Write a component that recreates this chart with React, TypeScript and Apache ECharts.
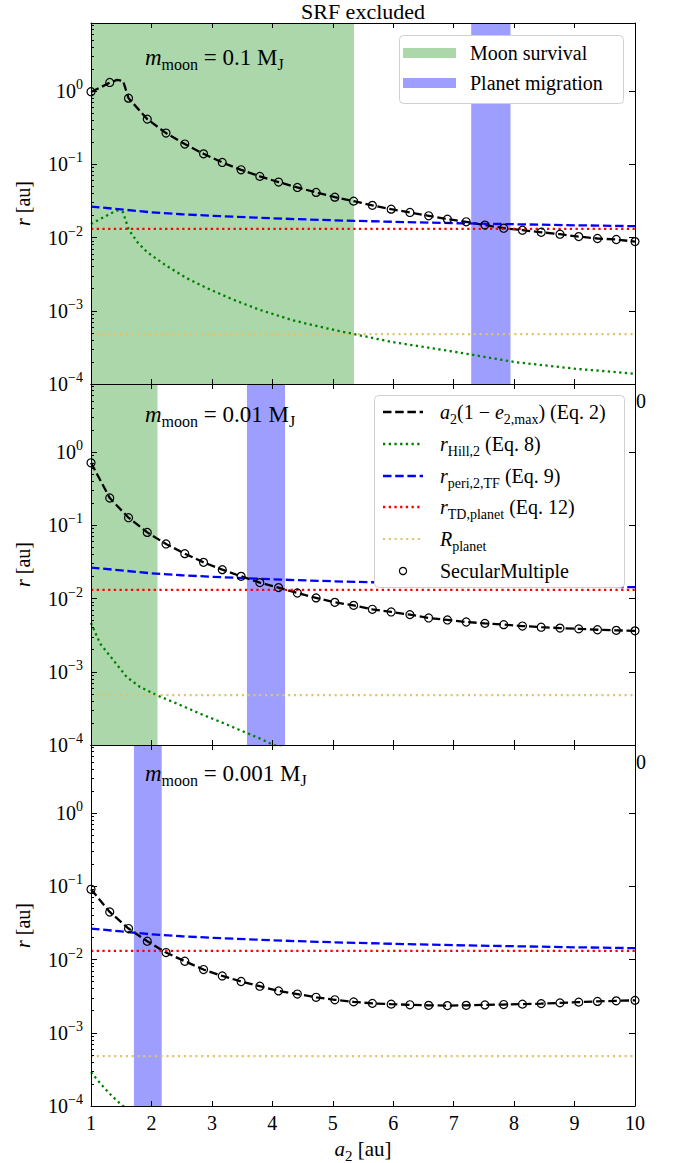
import React, { useEffect, useRef } from "react";
import * as echarts from "echarts";

const FONT = "'Liberation Serif', 'DejaVu Serif', serif";

// ---------------- data ----------------
const X_MIN = 1;
const X_MAX = 10;
const Y_MIN = 1e-4;
const Y_MAX = 8.5;
const xTickValues = [1, 2, 3, 4, 5, 6, 7, 8, 9, 10];
const yMajorTicks = [1e-4, 1e-3, 1e-2, 1e-1, 1];
const yMinorTicks: number[] = [];
for (const d of [1e-4, 1e-3, 1e-2, 1e-1, 1]) {
  for (const k of [2, 3, 4, 5, 6, 7, 8, 9]) {
    const v = k * d;
    if (v <= Y_MAX) yMinorTicks.push(v);
  }
}

const moonMasses = ["0.1", "0.01", "0.001"];

// SecularMultiple sample positions (a2, au)
const aSM = [
  1, 1.31, 1.621, 1.931, 2.241, 2.552, 2.862, 3.172, 3.483, 3.793, 4.103, 4.414,
  4.724, 5.034, 5.345, 5.655, 5.966, 6.276, 6.586, 6.897, 7.207, 7.517, 7.828,
  8.138, 8.448, 8.759, 9.069, 9.379, 9.69, 10,
];
// a2(1-e2,max) per panel (au)
const smR1 = [
  0.98, 1.31, 0.8, 0.414, 0.267, 0.189, 0.139, 0.106, 0.0841, 0.0684, 0.0572, 0.0483,
  0.0413, 0.0356, 0.0314, 0.0275, 0.0244, 0.022, 0.0198, 0.0178, 0.0164, 0.0148, 0.0134,
  0.0126, 0.0118, 0.0111, 0.0103, 0.0097, 0.0094, 0.0088,
];
const smR2 = [
  0.714, 0.236, 0.127, 0.08, 0.0556, 0.041, 0.0312, 0.0248, 0.0201, 0.0165, 0.0141, 0.0119,
  0.0102, 0.00887, 0.00807, 0.00713, 0.00656, 0.00603, 0.00543, 0.0051, 0.00478, 0.00458,
  0.0044, 0.00421, 0.00406, 0.00395, 0.00385, 0.00375, 0.00368, 0.00362,
];
const smR3 = [
  0.091, 0.0446, 0.0265, 0.0178, 0.01245, 0.00948, 0.0073, 0.00597, 0.00501, 0.00432,
  0.00373, 0.00338, 0.00305, 0.00282, 0.00264, 0.00252, 0.00246, 0.00241, 0.00237,
  0.00235, 0.00237, 0.0024, 0.00243, 0.00246, 0.0025, 0.00256, 0.00262, 0.00268,
  0.00273, 0.00277,
];
// finer line near the peak of panel 1
const peakA1 = [1, 1.31, 1.43, 1.53];
const peakR1 = [0.97, 1.3, 1.42, 1.38];

// r_peri,2,TF (same in all panels)
const aTF = [1, 1.5, 2, 2.5, 3, 4, 5, 6, 7, 8, 9, 10];
const rTF = [0.0265, 0.0242, 0.0221, 0.0208, 0.0198, 0.0183, 0.0172, 0.0164, 0.0157, 0.0152, 0.0147, 0.0143];

// r_Hill,2 per panel
const aHill1 = [1, 1.31, 1.43, 1.53, 1.62, 1.77, 1.93, 2.25, 2.58, 2.91, 3.35, 3.79, 4.34, 4.88, 5.35, 5.98, 7.08, 8, 9, 10];
const rHill1 = [
  0.0153, 0.021, 0.0234, 0.0222, 0.013, 0.0086, 0.0063, 0.0041, 0.0028, 0.00205, 0.00142,
  0.00103, 7.4e-4, 5.8e-4, 4.8e-4, 3.75e-4, 2.7e-4, 2.0e-4, 1.62e-4, 1.38e-4,
];
const aHill2 = [1, 1.15, 1.37, 1.59, 1.81, 2.09, 2.42, 2.8, 3.14, 3.47, 3.8, 4.02, 4.5];
const rHill2 = [0.00465, 0.00243, 0.00144, 8.5e-4, 6.2e-4, 4.78e-4, 3.68e-4, 2.69e-4, 2.07e-4, 1.59e-4, 1.22e-4, 1.0e-4, 7.6e-5];
const aHill3 = [1, 1.1, 1.2, 1.31, 1.42, 1.53, 1.62];
const rHill3 = [2.9e-4, 2.3e-4, 1.85e-4, 1.47e-4, 1.2e-4, 1.0e-4, 8.8e-5];

const rTD = 0.0131;
const rPlanet = 4.8e-4;

const greenBands: (number[] | null)[] = [[1, 5.35], [1, 2.1], null];
const blueBands: number[][] = [[7.29, 7.94], [3.58, 4.21], [1.71, 2.17]];

// ---------------- style ----------------
const GRID_TOPS = [23, 384, 745];
const GRID_H = 361;
const GRID_L = 91;
const GRID_W = 544;
const GREEN_BAND = "#acd7ab";
const BLUE_BAND = "#9e9eff";
const KHAKI = "#e2c26a";
const DASH = [8.5, 3.7];
const DOT = [2.3, 3.4];
const KDOT = [2.1, 3.7];

const zip = (xs: number[], ys: number[]) => xs.map((x, i) => [x, ys[i]]);

function rich(size: number) {
  const sub = Math.round(size * 0.7);
  return {
    r: { fontFamily: FONT, fontSize: size, lineHeight: size + 8, color: "#000" },
    i: { fontFamily: FONT, fontSize: size, fontStyle: "italic", lineHeight: size + 8, color: "#000" },
    s: { fontFamily: FONT, fontSize: sub, lineHeight: sub, verticalAlign: "bottom", color: "#000" },
    p: { fontFamily: FONT, fontSize: sub, lineHeight: sub, verticalAlign: "top", color: "#000" },
  };
}

function textEl(x: number, y: number, text: string, size: number, align = "left", extra: any = {}) {
  return {
    type: "text",
    x,
    y,
    z: 100,
    ...extra,
    style: {
      text,
      rich: rich(size),
      fontFamily: FONT,
      fontSize: size,
      fill: "#000",
      textAlign: align,
      align,
      textVerticalAlign: "middle",
      verticalAlign: "middle",
    },
  };
}

function buildOption() {
  const grid = GRID_TOPS.map((t) => ({ left: GRID_L, top: t, width: GRID_W, height: GRID_H }));
  const axisLine = { show: true, onZero: false, lineStyle: { color: "#000", width: 1 } };
  const tickStyle = { color: "#000", width: 1 };
  const xAxis: any[] = [];
  const yAxis: any[] = [];
  for (let i = 0; i < 3; i++) {
    const base = {
      gridIndex: i,
      type: "value",
      min: X_MIN,
      max: X_MAX,
      interval: 1,
      z: 10,
      axisLine,
      splitLine: { show: false },
    };
    xAxis.push({
      ...base,
      position: "bottom",
      axisTick: { show: true, inside: true, length: 5, lineStyle: tickStyle },
      axisLabel: {
        show: i === 2,
        margin: 7,
        color: "#000",
        fontFamily: FONT,
        fontSize: 20,
        formatter: (v: number) => (xTickValues.includes(v) ? String(v) : ""),
      },
    });
    xAxis.push({
      ...base,
      position: "top",
      axisTick: { show: true, inside: true, length: 5, lineStyle: tickStyle },
      axisLabel: { show: false },
    });
    const ybase = {
      gridIndex: i,
      type: "log",
      logBase: 10,
      min: Y_MIN,
      max: Y_MAX,
      z: 10,
      splitLine: { show: false },
      minorTick: { show: false },
    };
    yAxis.push({
      ...ybase,
      position: "left",
      axisLine,
      axisTick: { show: true, inside: true, length: 6, customValues: yMajorTicks, lineStyle: tickStyle },
      axisLabel: {
        show: true,
        customValues: yMajorTicks,
        margin: 8,
        formatter: (v: number) => {
          const e = Math.round(Math.log10(v));
          return "{r|10}{p|" + (e < 0 ? "\u2212" + -e : String(e)) + "}";
        },
        rich: {
          r: { fontFamily: FONT, fontSize: 20, lineHeight: 27, color: "#000" },
          p: { fontFamily: FONT, fontSize: 14, lineHeight: 14, verticalAlign: "top", color: "#000" },
        },
      },
    });
    yAxis.push({
      ...ybase,
      position: "left",
      axisLine: { show: false },
      axisTick: { show: true, inside: true, length: 3, customValues: yMinorTicks, lineStyle: tickStyle },
      axisLabel: { show: false },
    });
    yAxis.push({
      ...ybase,
      position: "right",
      axisLine,
      axisTick: { show: true, inside: true, length: 6, customValues: yMajorTicks, lineStyle: tickStyle },
      axisLabel: { show: false },
    });
  }

  const smR = [smR1, smR2, smR3];
  const hills = [zip(aHill1, rHill1), zip(aHill2, rHill2), zip(aHill3, rHill3)];
  const series: any[] = [];
  for (let i = 0; i < 3; i++) {
    const ax = { xAxisIndex: 2 * i, yAxisIndex: 3 * i };
    const areas: any[] = [];
    const g = greenBands[i];
    if (g) areas.push([{ xAxis: g[0], yAxis: Y_MIN, itemStyle: { color: GREEN_BAND } }, { xAxis: g[1], yAxis: Y_MAX }]);
    const b = blueBands[i];
    areas.push([{ xAxis: b[0], yAxis: Y_MIN, itemStyle: { color: BLUE_BAND } }, { xAxis: b[1], yAxis: Y_MAX }]);
    series.push({
      type: "line",
      ...ax,
      data: [],
      z: 1,
      silent: true,
      markArea: { silent: true, itemStyle: { opacity: 1 }, data: areas },
    });
    const lineData =
      i === 0 ? zip(peakA1, peakR1).concat(zip(aSM.slice(2), smR1.slice(2))) : zip(aSM, smR[i]);
    const lineCommon = { type: "line", ...ax, showSymbol: false, symbol: "none", silent: true, clip: true, z: 3 };
    series.push({ ...lineCommon, data: lineData, lineStyle: { color: "#000", width: 2.3, type: DASH } });
    series.push({ ...lineCommon, data: hills[i], lineStyle: { color: "#008000", width: 2.3, type: DOT } });
    series.push({ ...lineCommon, data: zip(aTF, rTF), lineStyle: { color: "#0000ff", width: 2.3, type: DASH } });
    series.push({ ...lineCommon, data: [[X_MIN, rTD], [X_MAX, rTD]], lineStyle: { color: "#ff0000", width: 2.3, type: DOT } });
    series.push({ ...lineCommon, data: [[X_MIN, rPlanet], [X_MAX, rPlanet]], lineStyle: { color: KHAKI, width: 2.1, type: KDOT } });
    series.push({
      type: "scatter",
      ...ax,
      data: zip(aSM, smR[i]),
      symbol: "circle",
      symbolSize: 8,
      silent: true,
      z: 4,
      itemStyle: { color: "rgba(0,0,0,0)", borderColor: "#000", borderWidth: 1.2, opacity: 1 },
    });
  }

  const graphic: any[] = [];
  // title
  graphic.push(textEl(363, 11, "{r|SRF excluded}", 22, "center"));
  // panel labels
  const labelY = [57, 414, 773];
  for (let i = 0; i < 3; i++) {
    graphic.push(
      textEl(145, labelY[i], "{i|m}{s|moon}{r| = " + moonMasses[i] + " M}{s|J}", 23, "left")
    );
    // y axis label
    graphic.push(
      textEl(23, GRID_TOPS[i] + GRID_H / 2, "{i|r}{r| [au]}", 20, "center", { rotation: Math.PI / 2 })
    );
  }
  // x axis label
  graphic.push(textEl(363, 1149, "{i|a}{s|2}{r| [au]}", 21, "center"));
  // truncated tick label pieces of hidden upper x axes
  graphic.push(textEl(636, 401, "{r|0}", 20, "left"));
  graphic.push(textEl(636, 762, "{r|0}", 20, "left"));

  // legend 1
  graphic.push({
    type: "rect",
    z: 90,
    shape: { x: 399.5, y: 35.5, width: 224, height: 68, r: 4 },
    style: { fill: "#fff", stroke: "#d0d0d0", lineWidth: 1 },
  });
  graphic.push({ type: "rect", z: 95, shape: { x: 403, y: 48, width: 53, height: 10 }, style: { fill: GREEN_BAND } });
  graphic.push({ type: "rect", z: 95, shape: { x: 403, y: 78, width: 53, height: 10 }, style: { fill: BLUE_BAND } });
  graphic.push(textEl(470, 53, "{r|Moon survival}", 20, "left"));
  graphic.push(textEl(470, 83, "{r|Planet migration}", 20, "left"));

  // legend 2
  graphic.push({
    type: "rect",
    z: 90,
    shape: { x: 374.5, y: 395.5, width: 250, height: 192, r: 4 },
    style: { fill: "#fff", stroke: "#d0d0d0", lineWidth: 1 },
  });
  const ly = [412, 444, 476, 507, 539, 571];
  const sample = (y: number, stroke: string, dash: number[], w: number) => ({
    type: "line",
    z: 95,
    shape: { x1: 383, y1: y, x2: 423, y2: y },
    style: { stroke, lineWidth: w, lineDash: dash },
  });
  graphic.push(sample(ly[0], "#000", DASH, 2.3));
  graphic.push(sample(ly[1], "#008000", DOT, 2.3));
  graphic.push(sample(ly[2], "#0000ff", DASH, 2.3));
  graphic.push(sample(ly[3], "#ff0000", DOT, 2.3));
  graphic.push(sample(ly[4], KHAKI, KDOT, 2.1));
  graphic.push({
    type: "circle",
    z: 95,
    shape: { cx: 403, cy: ly[5], r: 3.6 },
    style: { fill: "none", stroke: "#000", lineWidth: 1.2 },
  });
  graphic.push(textEl(440, ly[0], "{i|a}{s|2}{r|(1 \u2212 }{i|e}{s|2,max}{r|) (Eq. 2)}", 20, "left"));
  graphic.push(textEl(440, ly[1], "{i|r}{s|Hill,2}{r| (Eq. 8)}", 20, "left"));
  graphic.push(textEl(440, ly[2], "{i|r}{s|peri,2,TF}{r| (Eq. 9)}", 20, "left"));
  graphic.push(textEl(440, ly[3], "{i|r}{s|TD,planet}{r| (Eq. 12)}", 20, "left"));
  graphic.push(textEl(440, ly[4], "{i|R}{s|planet}", 20, "left"));
  graphic.push(textEl(440, ly[5], "{r|SecularMultiple}", 20, "left"));

  return {
    animation: false,
    backgroundColor: "#fff",
    grid,
    xAxis,
    yAxis,
    series,
    graphic,
  };
}

export default function App() {
  const ref = useRef<HTMLDivElement>(null);
  useEffect(() => {
    if (!ref.current) return;
    const chart = echarts.init(ref.current, null, { renderer: "svg" });
    chart.setOption(buildOption() as any);
    return () => chart.dispose();
  }, []);
  return (
    <div
      ref={ref}
      style={{ position: "absolute", left: 0, top: 0, width: 676, height: 1163 }}
    />
  );
}
